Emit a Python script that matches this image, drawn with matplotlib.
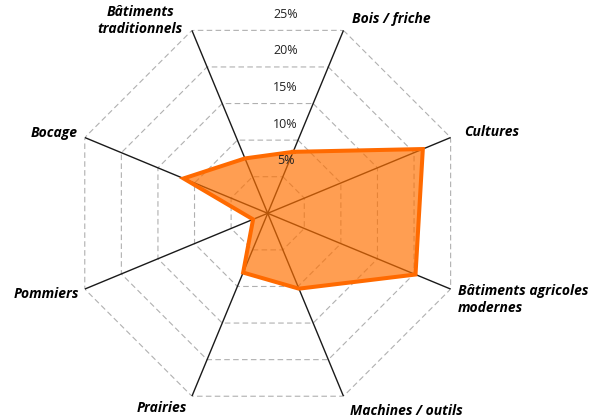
import numpy as np
import matplotlib.pyplot as plt

# catégories dans le sens horaire, en partant de "Bois / friche"
categories = ['Bois / friche', 'Cultures', 'Bâtiments agricoles\nmodernes',
              'Machines / outils', 'Prairies', 'Pommiers', 'Bocage',
              'Bâtiments\ntraditionnels']
valeurs = [8.4, 21.2, 20.2, 10.3, 8.1, 2.0, 11.5, 7.5]
niveaux = [5, 10, 15, 20, 25]
etiquettes_niveaux = ['5%', '10%', '15%', '20%', '25%']

n = len(categories)
angles = np.deg2rad(22.5 + 45 * np.arange(n))
angles_fermes = np.append(angles, angles[0])

fig = plt.figure(figsize=(5.98, 4.19), dpi=100)
W, H = 598, 419
cx, cy, R = 267.7, 213.3, 198
ax = fig.add_axes([(cx - R) / W, (H - cy - R) / H, 2 * R / W, 2 * R / H],
                  projection='polar')
ax.set_theta_zero_location('N')
ax.set_theta_direction(-1)
ax.set_ylim(0, 25)
ax.grid(False)
ax.spines['polar'].set_visible(False)
ax.set_xticks([])
ax.set_yticks([])
ax.patch.set_alpha(0)

# grille octogonale en pointillés
for lv in niveaux:
    ax.plot(angles_fermes, [lv] * (n + 1), color='#b0b0b0', lw=0.8,
            ls=(0, (5, 3)), zorder=1)

# rayons
for a in angles:
    ax.plot([a, a], [0, 25], color='#1a1a1a', lw=1.0, zorder=2)

# données
v = valeurs + [valeurs[0]]
ax.fill(angles_fermes, v, color='#ff7000', alpha=0.68, lw=0, zorder=3)
ax.plot(angles_fermes, v, color='#ff6a00', lw=2.9, solid_joinstyle='miter',
        zorder=4)

# étiquettes des niveaux
c = np.cos(np.deg2rad(22.5))
for lv, lab in zip(niveaux, etiquettes_niveaux):
    ax.annotate(lab, xy=(0, lv * c), xytext=(18, 16), textcoords='offset pixels',
                ha='center', va='center', fontsize=9, color='#222222',
                family=['Open Sans', 'DejaVu Sans'], zorder=5)

# étiquettes des catégories
decalages = [(9, 11, 'left', 'center'), (14, 6, 'left', 'center'),
             (7, 5, 'left', 'top'), (7, -15, 'left', 'center'),
             (-5, -12, 'right', 'center'), (-6, -5, 'right', 'center'),
             (-7, 5, 'right', 'center'), (-9, 10, 'right', 'center')]
for a, lab, (dx, dy, ha, va) in zip(angles, categories, decalages):
    ax.annotate(lab, xy=(a, 25), xytext=(dx, dy), textcoords='offset pixels',
                ha=ha, va=va, multialignment='center' if ha == 'right' else 'left',
                fontsize=10, fontweight='bold', fontstyle='italic',
                family=['Open Sans', 'DejaVu Sans'], linespacing=1.3,
                annotation_clip=False)

fig.savefig('out.png', dpi=100)
